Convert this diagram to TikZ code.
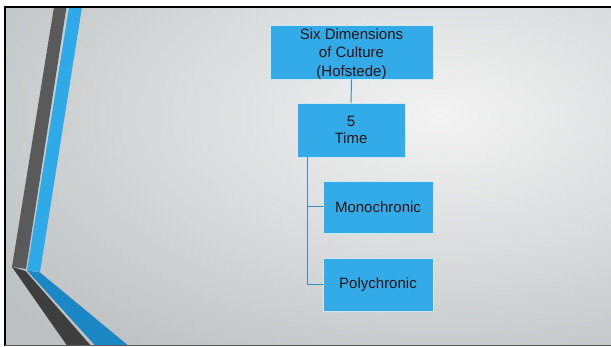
\documentclass[tikz,border=0pt]{standalone}
\usepackage{fontspec}
\setmainfont{Liberation Sans}
\usetikzlibrary{calc}
\definecolor{boxblue}{HTML}{33ABE9}
\definecolor{linkblue}{HTML}{3B8CC4}
\definecolor{bglight}{HTML}{F3F3F3}
\definecolor{bgdark}{HTML}{BCC0C2}
\definecolor{stripegray}{HTML}{5A5A5A}
\definecolor{stripedark}{HTML}{3E3E3E}
\definecolor{stripeblue}{HTML}{2EAAE8}
\definecolor{stripedeep}{HTML}{1B87C4}
\definecolor{inktext}{HTML}{161616}
\tikzset{
  orgbox/.style={draw=white!75!boxblue, line width=0.6, fill=boxblue,
    text=inktext, align=center, inner sep=0pt,
    font=\fontsize{15}{18}\selectfont},
  boxtext/.style={text=inktext, align=center, inner sep=0pt},
  link/.style={draw=linkblue, line width=1}
}
\begin{document}
\begin{tikzpicture}[x=1pt,y=-1pt]
\useasboundingbox (0,0) rectangle (611,347);
\fill[white] (0,0) rectangle (611,347);
% slide background with soft glow
\fill[bgdark] (5,7) rectangle (611,346);
\begin{scope}
  \clip (5,7) rectangle (611,346);
  \shade[inner color=bglight, outer color=bgdark]
    (440,115) ellipse [x radius=560, y radius=300];
  % decorative bent stripes on the left
  \fill[stripegray] (54,7) -- (66.5,7) -- (26,269) -- (12,267) -- cycle;
  \fill[stripeblue] (69,7) -- (82,7) -- (40,272) -- (27,270.5) -- cycle;
  \fill[stripedark] (12,267) -- (25.5,271) -- (92,347) -- (68,347) -- cycle;
  \fill[stripedeep] (27,270.5) -- (40,272.5) -- (130,347) -- (96.5,347) -- cycle;
\end{scope}
% frame
\draw[black, line width=2.5] (4,7) -- (611,7);
\draw[black, line width=2] (5,6) -- (5,346);
\draw[black!65, line width=1] (5,346) -- (611,346);
% hierarchy
\node[orgbox, minimum width=163, minimum height=54] (top) at (351.5,52) {};
\node[boxtext, font=\fontsize{15}{18.3}\selectfont] (toptext) at ($(top.center)+(0,2)$)
  {Six Dimensions\\of Culture\\(Hofstede)};
\node[orgbox, minimum width=108, minimum height=54,
      font=\fontsize{15}{16.8}\selectfont] (time) at (351,130) {5\\Time};
\node[orgbox, minimum width=110, minimum height=52] (mono) at (378,207) {Monochronic};
\node[orgbox, minimum width=110, minimum height=53] (poly) at (378,284.5) {Polychronic};
\coordinate (drop) at ($(time.south west)+(10.5,0)$);
\draw[link] (top.south) -- (time.north);
\draw[link] (drop) |- (mono.west);
\draw[link] (drop) |- (poly.west);
\end{tikzpicture}
\end{document}
